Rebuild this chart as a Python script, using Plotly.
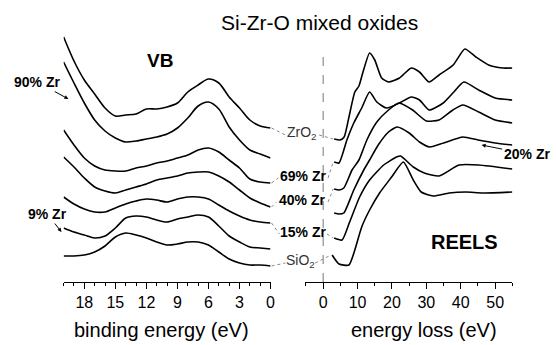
import plotly.graph_objects as go

W, H = 556, 345

# ---------------- data (intensity in arb. units, offset-stacked) ----------------
vb_energy = [20, 19, 18, 17, 16, 15, 14, 13, 12, 11, 10, 9, 8, 7, 6, 5, 4, 3, 2, 1, 0]
vb_zro2 = [245, 221, 202, 188, 174, 166, 167, 168, 173, 173, 175, 179, 190, 197, 203, 199, 185, 174, 162, 156, 154]
vb_90 = [220, 199, 179, 162, 151, 144, 140, 141, 143, 145, 148, 154, 164, 176, 180, 173, 155, 142, 132, 128, 124]
vb_69 = [152, 137, 124, 116, 112, 111, 111, 114, 116, 119, 121, 124, 127, 132, 134, 130, 122, 114, 103, 100, 99]
vb_40 = [125, 115, 104, 95, 91, 89, 92, 95, 98, 102, 104, 106, 109, 110, 110, 106, 100, 92, 84, 79, 75]
vb_15 = [85, 78, 73, 70, 70, 74, 78, 81, 83, 82, 80, 83, 85, 85, 83, 77, 71, 66, 62, 60, 59]
vb_9 = [54, 50, 47, 44, 46, 54, 64, 66, 65, 62, 60, 63, 65, 67, 65, 56, 46, 40, 35, 34, 33]
vb_sio2 = [26, 26, 27, 30, 36, 45, 49, 47, 44, 40, 37, 38, 40, 40, 37, 30, 23, 19, 17, 17, 16]
vb_curves = [vb_zro2, vb_90, vb_69, vb_40, vb_15, vb_9, vb_sio2]

r_zro2_e = [3.2, 4.9, 6.1, 7.5, 9.2, 10.4, 11.5, 13.5, 15, 17, 19, 22.2, 25.6, 28, 30.8, 33.7, 37.8, 41.2, 44.4, 48.1, 52.2, 55]
r_zro2 = [143, 142, 145, 165, 190, 196, 209, 229, 222, 204, 200, 204, 214, 210, 200, 207, 217, 233, 225, 217, 214, 214]
r_69_e = [3.2, 4.6, 6.9, 8.9, 11.2, 13.5, 15.6, 18.4, 22.2, 25.6, 28, 30.8, 34.9, 37.7, 40.9, 45.2, 50, 55]
r_69 = [120, 119, 142, 159, 174, 190, 180, 174, 179, 185, 182, 172, 179, 189, 200, 192, 184, 182]
r_40_e = [3.2, 4.6, 6, 8.4, 10.4, 12.7, 15.6, 19, 22, 26, 30, 33.7, 37.7, 40.6, 45.2, 50, 55]
r_40 = [93, 92, 94, 112, 122, 142, 160, 172, 179, 172, 161, 162, 172, 177, 170, 162, 159]
r_20_e = [3.2, 4.6, 6, 8.9, 11.8, 13.5, 16, 19, 21.5, 25, 28, 31, 35, 40.6, 45, 50, 55]
r_20 = [69, 68, 69, 92, 112, 122, 137, 150, 155, 149, 140, 135, 139, 145, 142, 139, 137]
r_15_e = [3.2, 5.5, 7.7, 10.6, 13.5, 17.6, 21.3, 22.5, 26.2, 29.4, 33.7, 39.5, 45.2, 55]
r_15 = [44, 42, 60, 85, 102, 117, 125, 126, 115, 109, 106, 117, 117, 113]
r_sio2_e = [2.6, 4.6, 7.5, 9.2, 11.2, 13.5, 16.4, 19.9, 23.3, 26.2, 28.5, 32, 36.6, 41.5, 46.4, 55]
r_sio2 = [27, 18, 17, 32, 55, 72, 89, 105, 120, 102, 90, 86, 89, 90, 89, 90]
reels = [(r_zro2_e, r_zro2), (r_69_e, r_69), (r_40_e, r_40), (r_20_e, r_20), (r_15_e, r_15), (r_sio2_e, r_sio2)]

vb_ticks = [18, 15, 12, 9, 6, 3, 0]
reels_ticks = [0, 10, 20, 30, 40, 50]

mid_labels = ["ZrO<sub>2</sub>", "69% Zr", "40% Zr", "15% Zr", "SiO<sub>2</sub>"]
mid_left_idx = [0, 2, 3, 4, 6]   # VB curve linked to each label
mid_right_idx = [0, 1, 2, 4, 5]  # REELS curve linked to each label

# ---------------- layout geometry ----------------
L_DOM = [64.2 / W, 273 / W]
R_DOM = [307.7 / W, 517 / W]
Y_DOM = [1 - 282 / H, 1.0]
Y_RANGE = [0, 282]
VB_RANGE = [20, 0]
RE_RANGE = [-5.3, 55]


def lx(e):
    f = (e - VB_RANGE[0]) / (VB_RANGE[1] - VB_RANGE[0])
    return L_DOM[0] + f * (L_DOM[1] - L_DOM[0])


def rx(e):
    f = (e - RE_RANGE[0]) / (RE_RANGE[1] - RE_RANGE[0])
    return R_DOM[0] + f * (R_DOM[1] - R_DOM[0])


def py(v):
    f = (v - Y_RANGE[0]) / (Y_RANGE[1] - Y_RANGE[0])
    return Y_DOM[0] + f * (Y_DOM[1] - Y_DOM[0])


fig = go.Figure()
for c in vb_curves:
    fig.add_trace(go.Scatter(x=vb_energy, y=c, mode="lines", xaxis="x", yaxis="y",
                             line=dict(color="black", width=1.6, shape="spline", smoothing=0.8),
                             showlegend=False, hoverinfo="skip"))
for e, v in reels:
    fig.add_trace(go.Scatter(x=e, y=v, mode="lines", xaxis="x2", yaxis="y2",
                             line=dict(color="black", width=1.6, shape="spline", smoothing=0.55),
                             showlegend=False, hoverinfo="skip"))

FONT = "Liberation Sans, Arial, Helvetica, sans-serif"
axis_common = dict(showline=True, linecolor="black", linewidth=1.2, ticks="outside",
                   ticklen=6, tickwidth=1.2, tickcolor="black", showgrid=False, zeroline=False,
                   tickfont=dict(family=FONT, size=16, color="black"))

fig.update_layout(
    width=W, height=H, margin=dict(l=0, r=0, t=0, b=0),
    paper_bgcolor="white", plot_bgcolor="white",
    xaxis=dict(domain=L_DOM, range=VB_RANGE, anchor="y", tickmode="array", tickvals=vb_ticks,
               minor=dict(dtick=1, tick0=0, ticklen=3, ticks="outside", tickcolor="black", tickwidth=1.2),
               **axis_common),
    xaxis2=dict(domain=R_DOM, range=RE_RANGE, anchor="y2", tickmode="array", tickvals=reels_ticks,
                minor=dict(dtick=5, tick0=0, ticklen=3, ticks="outside", tickcolor="black", tickwidth=1.2),
                **axis_common),
    yaxis=dict(domain=Y_DOM, range=Y_RANGE, visible=False),
    yaxis2=dict(domain=Y_DOM, range=Y_RANGE, visible=False, anchor="x2"),
)

shapes = []
# dashed zero line in REELS panel
shapes.append(dict(type="line", xref="x2", yref="y2", x0=0, x1=0, y0=0, y1=225,
                   line=dict(color="#777777", width=1, dash="dash")))

# mid labels with dotted connectors
label_px = [(305, 133), (306, 176), (305, 200), (306, 232), (303, 261)]
label_half = [17, 25, 26, 24, 15]
ann = []
for i, txt in enumerate(mid_labels):
    cxp, cyp = label_px[i]
    is_oxide = "sub" in txt
    ann.append(dict(text=txt if is_oxide else f"<b>{txt}</b>", x=cxp / W, y=1 - cyp / H,
                    xref="paper", yref="paper", showarrow=False,
                    font=dict(family=FONT, size=14, color="#333333" if is_oxide else "black"),
                    xanchor="center", yanchor="middle"))
    li = mid_left_idx[i]
    ri = mid_right_idx[i]
    x_left_end = lx(vb_energy[-1])
    y_left_end = py(vb_curves[li][-1])
    e_r, v_r = reels[ri]
    x_right_start = rx(e_r[0])
    y_right_start = py(v_r[0])
    shapes.append(dict(type="line", xref="paper", yref="paper",
                       x0=x_left_end + 1 / W, y0=y_left_end,
                       x1=(cxp - label_half[i]) / W, y1=1 - (cyp + 2) / H,
                       line=dict(color="#888888", width=1, dash="dot")))
    shapes.append(dict(type="line", xref="paper", yref="paper",
                       x0=(cxp + label_half[i]) / W, y0=1 - (cyp + 2) / H,
                       x1=x_right_start - 1 / W, y1=y_right_start,
                       line=dict(color="#888888", width=1, dash="dot")))

fig.update_layout(shapes=shapes)


def pp(xp, yp):
    return xp / W, 1 - yp / H


# titles and panel labels
for txt, (xp, yp), size, bold in [
    ("Si-Zr-O mixed oxides", (322, 22), 21, False),
    ("VB", (161, 61), 19, True),
    ("REELS", (469, 242), 20, True),
    ("binding energy (eV)", (163, 330), 20, False),
    ("energy loss (eV)", (428, 330), 20, False),
]:
    x, y = pp(xp, yp)
    ann.append(dict(text=f"<b>{txt}</b>" if bold else txt, x=x, y=y, xref="paper", yref="paper",
                    showarrow=False, xanchor="center", yanchor="middle",
                    font=dict(family=FONT, size=size, color="black")))

# arrow labels (arrow drawn from the label toward the curve)
for txt, (lxp, lyp), (hx, hy) in [
    ("90% Zr", (38, 82), (69, 99)),
    ("9% Zr", (48, 214), (62, 232)),
    ("20% Zr", (531, 154), (486, 145)),
]:
    x, y = pp(hx, hy)
    ann.append(dict(text=f"<b>{txt}</b>", x=x, y=y, xref="paper", yref="paper", showarrow=True,
                    ax=lxp - hx, ay=lyp - hy, arrowhead=2, arrowsize=0.8, arrowwidth=1,
                    arrowcolor="black", standoff=0,
                    font=dict(family=FONT, size=14, color="black")))

fig.update_layout(annotations=ann)
fig.write_html("out.html")
